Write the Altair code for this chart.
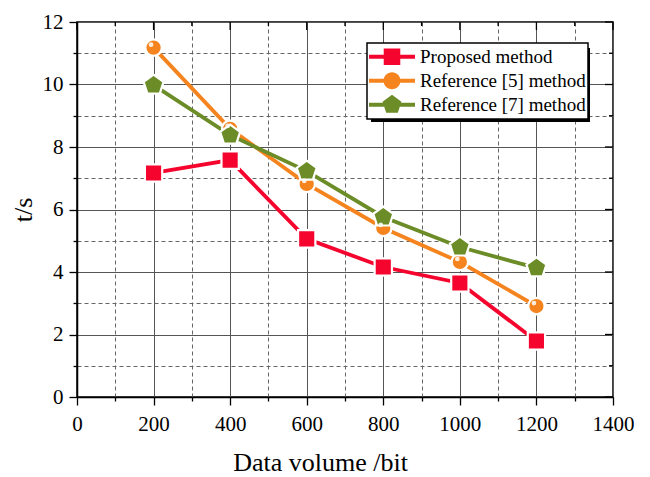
import altair as alt
import pandas as pd

# ---- data ----
volume = [200, 400, 600, 800, 1000, 1200]
proposed = [7.17, 7.58, 5.06, 4.16, 3.65, 1.79]
ref5 = [11.18, 8.58, 6.82, 5.41, 4.32, 2.91]
ref7 = [9.98, 8.38, 7.23, 5.76, 4.80, 4.13]
series = ["Proposed method", "Reference [5] method", "Reference [7] method"]
colors = ["#F5052E", "#F5841F", "#6B8C26"]
x_ticks = list(range(0, 1401, 100))
y_ticks = list(range(0, 13))

FONT = "Liberation Serif"
W, H = 536, 375

rows = []
for name, vals in zip(series, [proposed, ref5, ref7]):
    for v, t in zip(volume, vals):
        rows.append({"series": name, "volume": v, "t": t})
df = pd.DataFrame(rows)
xt_df = pd.DataFrame({"volume": x_ticks})
yt_df = pd.DataFrame({"t": y_ticks})

PENT = "M0,-1L0.951,-0.309L0.588,0.809L-0.588,0.809L-0.951,-0.309Z"
marker_shapes = ["square", "circle", PENT]
marker_sizes = [300, 270, 441]

LINE = "M-1,-0.085L1,-0.085L1,0.085L-1,0.085Z "
legend_shapes = [
    LINE + "M-0.36,-0.36L0.36,-0.36L0.36,0.36L-0.36,0.36Z",
    LINE + "M0.37,0A0.37,0.37 0 1,1 -0.37,0A0.37,0.37 0 1,1 0.37,0Z",
    LINE + "M0,-0.43L0.409,-0.133L0.253,0.348L-0.253,0.348L-0.409,-0.133Z",
]

major_x = "datum.value % 200 == 0"
major_y = "datum.value % 2 == 0"

x_axis = alt.Axis(
    values=x_ticks, format="d",
    labelExpr=f"{major_x} ? datum.label : ''",
    title="Data volume /bit", titleX=243, titleAlign="center",
    titlePadding=15, labelPadding=8, labelFlush=False, labelOverlap=False,
    tickSize={"condition": {"test": major_x, "value": 8}, "value": 4},
    gridColor={"condition": {"test": major_x, "value": "#555555"}, "value": "#666666"},
    gridDash={"condition": {"test": major_x, "value": []}, "value": [4, 3]},
)
y_axis = alt.Axis(
    values=y_ticks, format="d",
    labelExpr=f"{major_y} ? datum.label : ''",
    title="t/s",
    titlePadding=6, labelPadding=6, labelFlush=False, labelOverlap=False,
    tickSize={"condition": {"test": major_y, "value": 8}, "value": 4},
    gridColor={"condition": {"test": major_y, "value": "#555555"}, "value": "#666666"},
    gridDash={"condition": {"test": major_y, "value": []}, "value": [4, 3]},
)

X = alt.X("volume:Q", scale=alt.Scale(domain=[0, 1400], nice=False, zero=False), axis=x_axis)
Y = alt.Y("t:Q", scale=alt.Scale(domain=[0, 12], nice=False, zero=False), axis=y_axis)
color_scale = alt.Scale(domain=series, range=colors)

base = alt.Chart(df)

# inward ticks on the top and right frame edges
top_major = alt.Chart(xt_df).transform_filter("datum.volume % 200 == 0").mark_rule(
    color="black", strokeWidth=1.3).encode(x=X, y=alt.value(0), y2=alt.value(8))
top_minor = alt.Chart(xt_df).transform_filter("datum.volume % 200 != 0").mark_rule(
    color="black", strokeWidth=1.3).encode(x=X, y=alt.value(0), y2=alt.value(4))
right_major = alt.Chart(yt_df).transform_filter("datum.t % 2 == 0").mark_rule(
    color="black", strokeWidth=1.3).encode(y=Y, x=alt.value(W), x2=alt.value(W - 8))
right_minor = alt.Chart(yt_df).transform_filter("datum.t % 2 != 0").mark_rule(
    color="black", strokeWidth=1.3).encode(y=Y, x=alt.value(W), x2=alt.value(W - 4))

# legend shadow (decoration)
shadow = alt.Chart(pd.DataFrame({"k": [0]})).mark_rect(color="black").encode(
    x=alt.value(294), x2=alt.value(513), y=alt.value(26), y2=alt.value(100)
)

line_layers = []
point_layers = []
for name, col, shp, sz in zip(series, colors, marker_shapes, marker_sizes):
    sub = base.transform_filter(alt.datum.series == name)
    line_layers.append(
        sub.mark_line(strokeWidth=3.8, color=col).encode(x=X, y=Y, order=alt.Order("volume:Q"))
    )
    point_layers.append(
        sub.mark_point(filled=True, fill=col, stroke="white", strokeWidth=2.2,
                       shape=shp, size=sz, opacity=1)
        .encode(x=X, y=Y)
    )

highlight = (
    base.transform_filter(alt.datum.series == series[1])
    .mark_point(filled=True, fill="white", shape="circle", size=22,
                opacity=0.85, xOffset=-2.5, yOffset=-3)
    .encode(x=X, y=Y)
)

legend = alt.Legend(
    orient="none", legendX=290, legendY=21, title=None,
    labelFont=FONT, labelFontSize=19, labelColor="black", labelLimit=400,
    labelOffset=5, symbolSize=2116, symbolStrokeWidth=0, symbolOpacity=1,
    symbolOffset=0, clipHeight=23.5, rowPadding=0, padding=2,
    fillColor="white", strokeColor="black",
)

legend_layer = base.mark_point(filled=True, opacity=0).encode(
    x=X, y=Y,
    color=alt.Color("series:N", scale=color_scale, legend=legend),
    shape=alt.Shape("series:N", scale=alt.Scale(domain=series, range=legend_shapes), legend=legend),
)

chart = alt.layer(
    top_major, top_minor, right_major, right_minor, shadow,
    *line_layers, *point_layers, highlight, legend_layer
).properties(
    width=W, height=H,
    autosize=alt.AutoSizeParams(type="none"),
    padding={"left": 69, "top": 14, "right": 29, "bottom": 80},
    background="white",
).configure_view(
    stroke="black", strokeWidth=1.5
).configure_legend(
    strokeWidth=1.5
).configure_axis(
    labelFont=FONT, labelFontSize=21, labelColor="black",
    titleFont=FONT, titleFontSize=26, titleFontWeight="normal", titleColor="black",
    tickColor="black", tickWidth=1.3,
    domainColor="black", domainWidth=1.5,
    grid=True, gridWidth=1,
)

chart.save("out.html", embed_options={"renderer": "svg", "actions": False})
